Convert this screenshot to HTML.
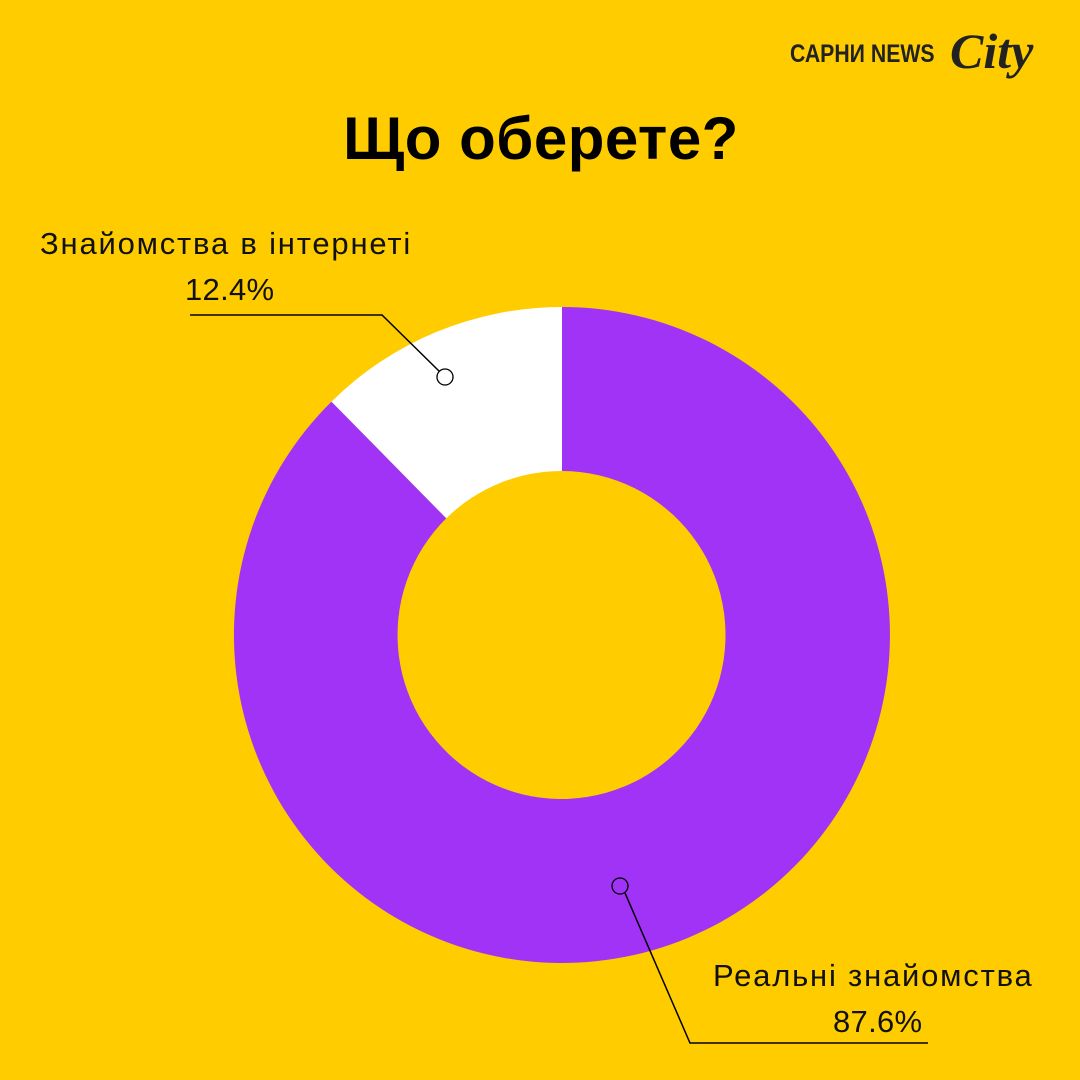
<!DOCTYPE html>
<html><head><meta charset="utf-8"><style>
html,body{margin:0;padding:0}
body{width:1080px;height:1080px;background:#FFCC00;position:relative;overflow:hidden;font-family:"Liberation Sans",sans-serif}
.t{position:absolute;white-space:nowrap;color:#111}
.l{font-size:31px;letter-spacing:1.8px}
.p{font-size:31px;letter-spacing:0.3px}
</style></head><body>
<div class="t" style="left:790px;top:40px;font-size:25px;font-weight:bold;color:#222;transform:scaleX(0.85);transform-origin:left">САРНИ NEWS</div>
<div class="t" style="left:950px;top:22px;font-size:50px;font-style:italic;font-weight:bold;font-family:'Liberation Serif',serif;color:#222">City</div>
<div class="t" style="left:0;width:1082px;text-align:center;top:104px;font-size:60px;font-weight:bold;color:#000;letter-spacing:0.5px">Що оберете?</div>
<div class="t l" style="left:40px;top:226px">Знайомства в інтернеті</div>
<div class="t p" style="left:185px;top:272px">12.4%</div>
<div class="t l" style="left:713px;top:958px">Реальні знайомства</div>
<div class="t p" style="left:833px;top:1004px">87.6%</div>
<svg width="1080" height="1080" style="position:absolute;left:0;top:0">
<path d="M562 307 A328 328 0 1 1 331.5 401.6 L446.3 518.3 A164 164 0 1 0 562 471 Z" fill="#A033F5"/>
<path d="M562 307 L562 471 A164 164 0 0 0 446.3 518.3 L331.5 401.6 A328 328 0 0 1 562 307 Z" fill="#fff"/>
<polyline points="190,315 382,315 440,372" fill="none" stroke="#000" stroke-width="1.5"/>
<circle cx="445" cy="377" r="8" fill="#fff" stroke="#000" stroke-width="1.3"/>
<polyline points="625,893 690,1043 928,1043" fill="none" stroke="#000" stroke-width="1.5"/>
<circle cx="620" cy="886" r="8" fill="#A033F5" stroke="#000" stroke-width="1.3"/>
</svg>
</body></html>
